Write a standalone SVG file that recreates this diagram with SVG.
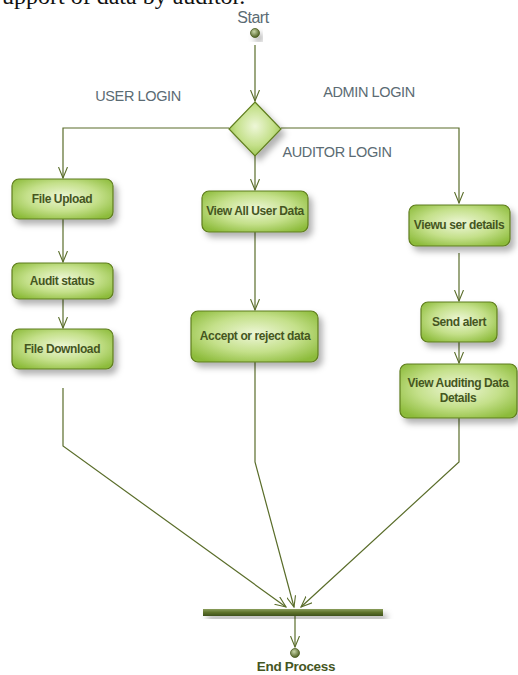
<svg xmlns="http://www.w3.org/2000/svg" width="518" height="675" viewBox="0 0 518 675">
<style>
.box{fill:url(#gBox);stroke:#5f7d1e;stroke-width:1.2;filter:url(#sh)}
.bt{font-family:"Liberation Sans",Arial,sans-serif;font-size:12px;font-weight:bold;fill:#45561f;text-anchor:middle;letter-spacing:-0.4px}
.lbl{font-family:"Liberation Sans",Arial,sans-serif;font-size:14.5px;fill:#5b6b73;text-anchor:middle;letter-spacing:-0.4px}
.ln{fill:none;stroke:#5a6d2a;stroke-width:1.2}
</style>
<defs>
<radialGradient id="gBox" cx="50%" cy="45%" r="65%">
<stop offset="0" stop-color="#eef7d8"/>
<stop offset="0.55" stop-color="#c4e08a"/>
<stop offset="1" stop-color="#8cbb3a"/>
</radialGradient>
<radialGradient id="gDot" cx="40%" cy="35%" r="65%">
<stop offset="0" stop-color="#c9d6a8"/>
<stop offset="1" stop-color="#4f6124"/>
</radialGradient>
<linearGradient id="gBar" x1="0" y1="0" x2="0" y2="1">
<stop offset="0" stop-color="#8a9d5a"/>
<stop offset="0.5" stop-color="#5d722c"/>
<stop offset="1" stop-color="#3e4f18"/>
</linearGradient>
<filter id="sh" x="-20%" y="-20%" width="150%" height="160%">
<feDropShadow dx="4" dy="5" stdDeviation="3" flood-color="#000" flood-opacity="0.3"/>
</filter>
<marker id="arr" markerWidth="12" markerHeight="10" refX="11" refY="5" orient="auto" markerUnits="userSpaceOnUse">
<path d="M0,0.5 L11,5 L0,9.5" fill="none" stroke="#5a6d2a" stroke-width="1.1"/>
</marker>
</defs>
<text x="2" y="4" font-family="Liberation Serif,serif" font-size="24" fill="#111">upport of data by auditor.</text>
<text x="253" y="23" font-family="Liberation Sans,Arial,sans-serif" font-size="16" fill="#5b6b73" text-anchor="middle" letter-spacing="-0.5">Start</text>
<g id="start"><circle cx="255" cy="33" r="4.5" fill="url(#gDot)" stroke="#4a5c20" stroke-width="0.8" filter="url(#sh)"/></g>
<g id="connectors">
<path class="ln" d="M255,45 V101" marker-end="url(#arr)"/>
<path class="ln" d="M229,128 H63 V178" marker-end="url(#arr)"/>
<path class="ln" d="M281,128 H459 V203" marker-end="url(#arr)"/>
<path class="ln" d="M255,156 V190" marker-end="url(#arr)"/>
<path class="ln" d="M63,219 V262" marker-end="url(#arr)"/>
<path class="ln" d="M63,299 V328" marker-end="url(#arr)"/>
<path class="ln" d="M255,232 V310" marker-end="url(#arr)"/>
<path class="ln" d="M459,253 V301" marker-end="url(#arr)"/>
<path class="ln" d="M459,342 V363" marker-end="url(#arr)"/>
<path class="ln" d="M63,388 V446 L286,607" marker-end="url(#arr)"/>
<path class="ln" d="M255,362 V462 L294,607" marker-end="url(#arr)"/>
<path class="ln" d="M459,418 V462 L301,607" marker-end="url(#arr)"/>
<path class="ln" d="M295,616 V647" marker-end="url(#arr)"/>
</g>
<g id="decision"><polygon points="255,102 281,129 255,156 229,129" fill="url(#gBox)" stroke="#5f7d1e" stroke-width="1.2" filter="url(#sh)"/></g>
<text class="lbl" x="138" y="101">USER LOGIN</text>
<text class="lbl" x="369" y="97">ADMIN LOGIN</text>
<text class="lbl" x="337" y="157">AUDITOR LOGIN</text>
<g id="fileUpload"><rect class="box" x="12" y="179" width="101" height="40" rx="7"/><text class="bt" x="62" y="203">File Upload</text></g>
<g id="auditStatus"><rect class="box" x="12" y="263" width="101" height="36" rx="7"/><text class="bt" x="62" y="285">Audit status</text></g>
<g id="fileDownload"><rect class="box" x="12" y="329" width="101" height="40" rx="7"/><text class="bt" x="62" y="353">File Download</text></g>
<g id="viewAll"><rect class="box" x="202" y="191" width="106" height="41" rx="7"/><text class="bt" x="255" y="215">View All User Data</text></g>
<g id="accept"><rect class="box" x="191" y="311" width="127" height="51" rx="7"/><text class="bt" x="255" y="340">Accept or reject data</text></g>
<g id="viewUser"><rect class="box" x="409" y="205" width="101" height="41" rx="7"/><text class="bt" x="459" y="229">Viewu ser details</text></g>
<g id="sendAlert"><rect class="box" x="421" y="302" width="76" height="40" rx="7"/><text class="bt" x="459" y="326">Send alert</text></g>
<g id="viewAuditing"><rect class="box" x="400" y="364" width="117" height="54" rx="7"/><text class="bt" x="458" y="387">View Auditing Data</text><text class="bt" x="458" y="402">Details</text></g>
<g id="join"><rect x="203" y="609" width="180" height="7" fill="url(#gBar)" filter="url(#sh)"/></g>
<g id="end"><circle cx="295" cy="653" r="4.5" fill="url(#gDot)" stroke="#4a5c20" stroke-width="0.8"/></g>
<text x="296" y="671" font-family="Liberation Sans,Arial,sans-serif" font-size="13.5" font-weight="bold" fill="#45561f" text-anchor="middle" letter-spacing="-0.3">End Process</text>
</svg>
